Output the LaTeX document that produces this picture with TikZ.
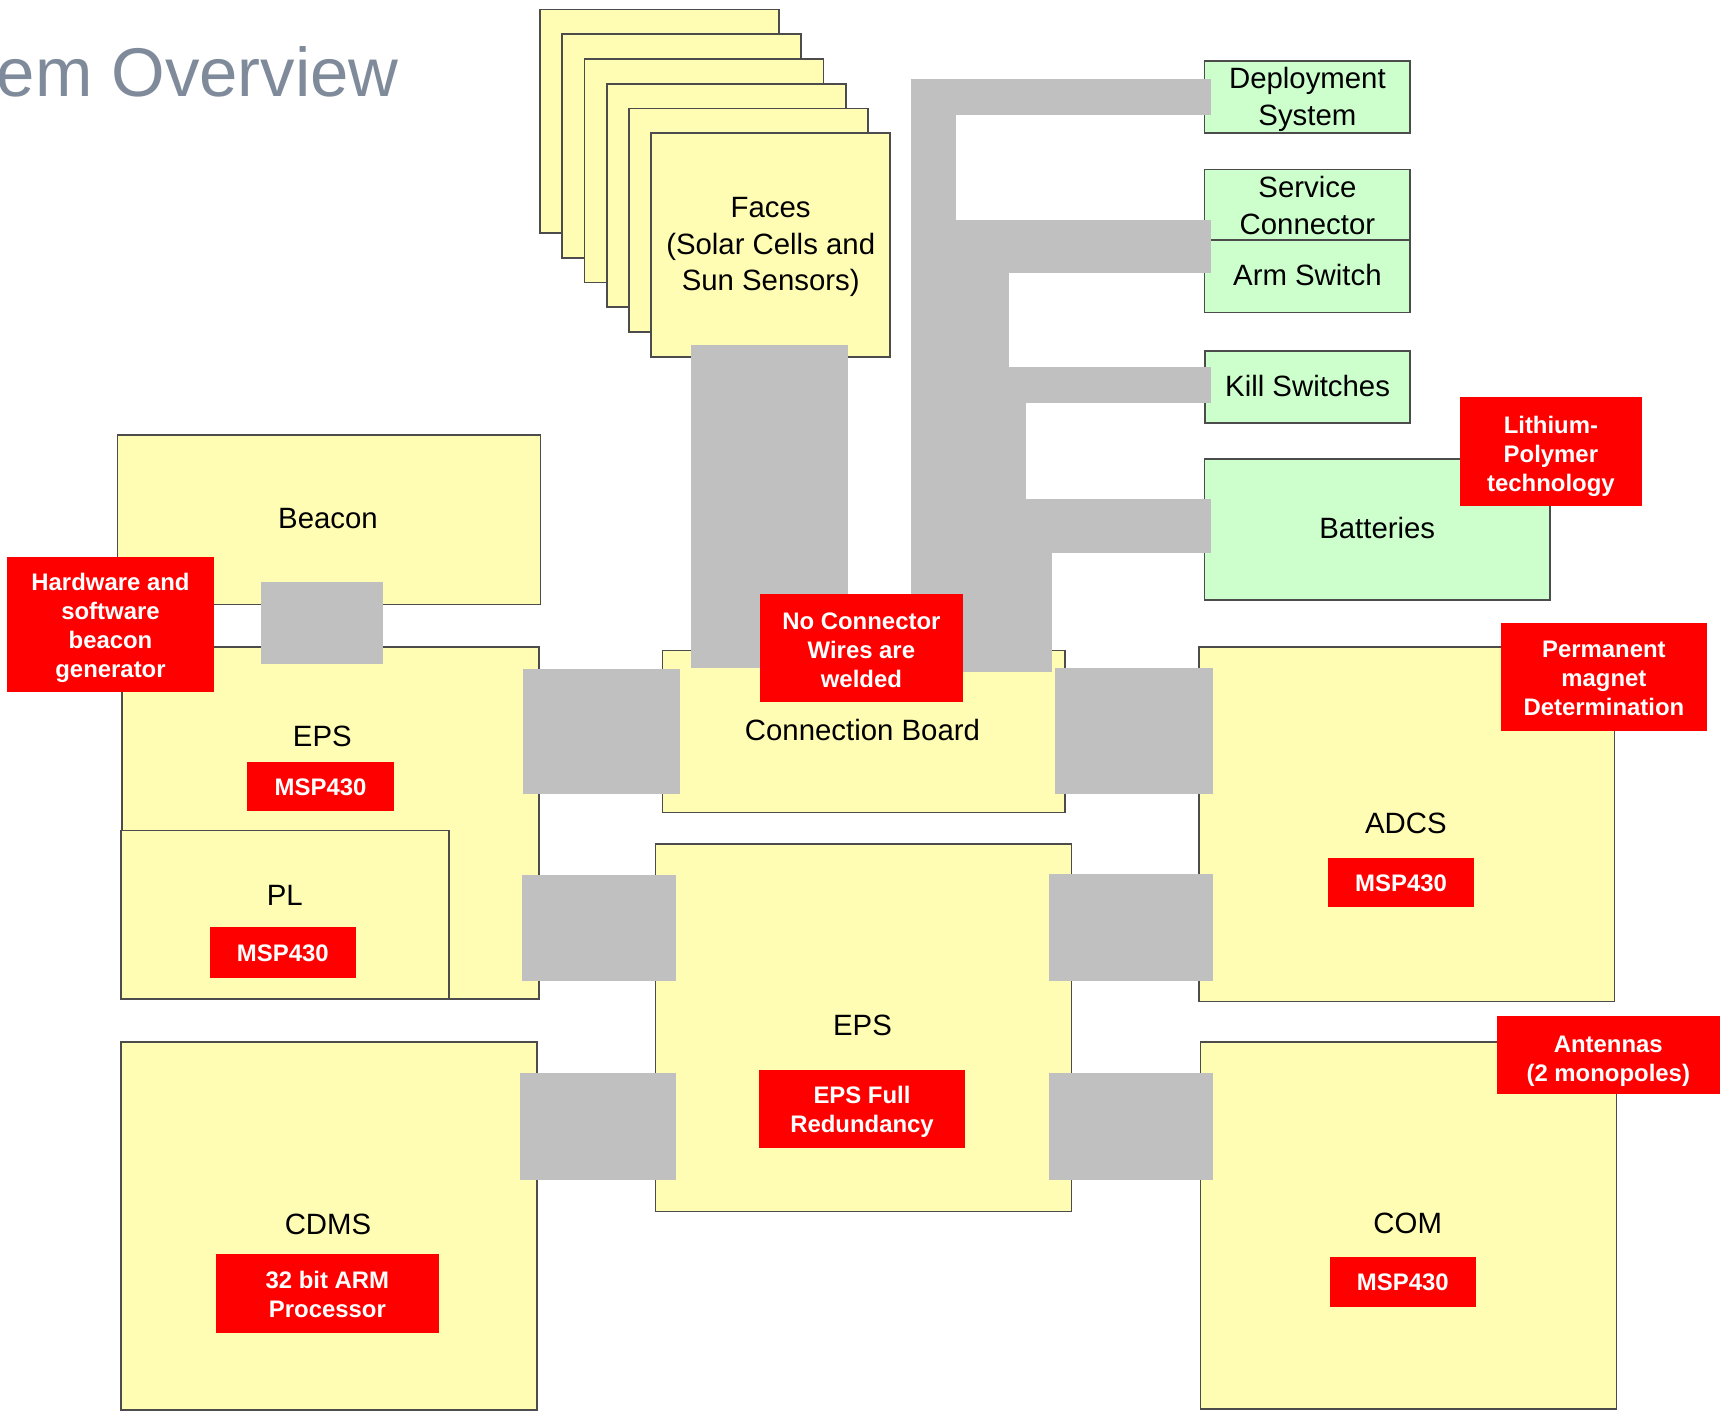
\documentclass[tikz,border=0pt]{standalone}
\usepackage{fontspec}
\setmainfont{Liberation Sans}
\usepackage{xcolor}
\usepackage{tikz}

\definecolor{boardyellow}{HTML}{FFFDB3}
\definecolor{switchgreen}{HTML}{CCFFCC}
\definecolor{busgray}{HTML}{C0C0C0}
\definecolor{notered}{HTML}{FF0000}
\definecolor{titlegray}{HTML}{7F8B9B}

\tikzset{
  board/.style={fill=boardyellow, draw=black!70, line width=0.5pt},
  switchbox/.style={fill=switchgreen, draw=black!70, line width=0.5pt},
  bus/.style={fill=busgray},
  note/.style={fill=notered},
  lbl/.style={font=\fontsize{8.35}{10.4}\selectfont, align=center, inner sep=0pt},
  notelbl/.style={font=\fontsize{6.8}{8.25}\selectfont\bfseries, text=white, align=center, inner sep=0pt}
}

\begin{document}
\begin{tikzpicture}[x=0.01cm, y=-0.01cm]

\fill[white] (0,0) rectangle (1723,1413);
\useasboundingbox (0,0) rectangle (1723,1413);

\node[anchor=base west, inner sep=0pt, text=titlegray, font=\fontsize{19.6}{23}\selectfont] (title) at (-4,97) {em Overview};

% stack of faces
\foreach \i in {0,...,5} {
	\draw[board] (540 + 22.25*\i, 9.5 + 24.75*\i) rectangle ++(239,223.5);
}
\node[lbl] (faces) at (770.7,247.2) {Faces\\(Solar Cells and\\Sun Sensors)};

% switches and batteries
\draw[switchbox] (1204.5, 60.7)--(1410.2, 60.7)--(1410.2,133.2)--(1204.5,133.2)--cycle;
\draw[switchbox] (1204.5,169.6) rectangle (1410.2,240);
\draw[switchbox] (1204.5,240)   rectangle (1410.2,312.5);
\draw[switchbox] (1205,350.7)   rectangle (1410.2,423.2);
\draw[switchbox] (1204.5,458.9) rectangle (1549.9,600);

\node[lbl] (deploy)  at (1307.4, 99.2) {Deployment\\System};
\node[lbl] (service) at (1307.4,205.5) {Service\\Connector};
\node[lbl] (arm)     at (1307.4,275.5) {Arm Switch};
\node[lbl] (kill)    at (1307.6,386)   {Kill Switches};
\node[lbl] (batt)    at (1377.2,528.5) {Batteries};

% boards
\draw[board] (117.4,435.3) rectangle (540.6,604.5);
\draw[board] (121.9,647)   rectangle (538.8,999);
\draw[board] (121,830.6)   rectangle (449.1,999);
\draw[board] (121,1042)    rectangle (537,1410);
\draw[board] (662.5,650.5) rectangle (1064.7,812.4);
\draw[board] (655.4,843.9) rectangle (1071.4,1211.5);
\draw[board] (1198.7,647.2) rectangle (1614.5,1001.5);
\draw[board] (1200.5,1041.8) rectangle (1616.6,1409);

\node[lbl] (beacon) at (328,518.7)    {Beacon};
\node[lbl] (eps1)   at (322.3,736.5)  {EPS};
\node[lbl] (pl)     at (284.8,895.7)  {PL};
\node[lbl] (cdms)   at (328,1224)     {CDMS};
\node[lbl] (cboard) at (862.5,730.2)  {Connection Board};
\node[lbl] (eps2)   at (862.5,1025.2) {EPS};
\node[lbl] (adcs)   at (1405.8,823)   {ADCS};
\node[lbl] (com)    at (1407.7,1223.8) {COM};

% harness to the switches
\fill[bus] (910.5, 78.6) rectangle (1211.3,115);
\fill[bus] (910.5, 78.6) rectangle (956.2,219.6);
\fill[bus] (910.5,219.6) rectangle (1211.3,273.2);
\fill[bus] (910.5,273.2) rectangle (1008.7,366.8);
\fill[bus] (910.5,366.8) rectangle (1211.3,402.9);
\fill[bus] (910.5,402.9) rectangle (1026,499.3);
\fill[bus] (910.5,499.3) rectangle (1211.3,552.9);
\fill[bus] (910.5,552.9) rectangle (1051.8,672);

% connectors between boards
\fill[bus] (691.4,345)   rectangle (848.4,668);
\fill[bus] (261.2,582.3) rectangle (383,664.2);

\fill[bus] (523.2,668.6)  rectangle (679.9,794);
\fill[bus] (521.9,875)    rectangle (676.3,981);
\fill[bus] (519.5,1073.5) rectangle (676.3,1180.2);

\fill[bus] (1055.4,668)   rectangle (1212.5,794);
\fill[bus] (1049,874.5)   rectangle (1212.5,981);
\fill[bus] (1049,1073.5)  rectangle (1212.5,1180);

% red notes
\fill[note] (1460,397.5)  rectangle (1641.7,506);
\fill[note] (7.1,556.6)   rectangle (213.8,692.5);
\fill[note] (759.8,593.7) rectangle (963,701.6);
\fill[note] (1501.2,622.8) rectangle (1706.6,730.6);
\fill[note] (246.9,762.1) rectangle (394.2,811.5);
\fill[note] (1328,858.2)  rectangle (1474.2,907.5);
\fill[note] (209.8,927)   rectangle (355.8,977.6);
\fill[note] (1497,1016)   rectangle (1719.5,1094.5);
\fill[note] (758.9,1069.6) rectangle (965.2,1148.5);
\fill[note] (216,1254)    rectangle (438.8,1332.7);
\fill[note] (1330,1256.8) rectangle (1475.5,1306.6);

\node[notelbl] (lipo)    at (1550.9,456.2)  {Lithium-\\Polymer\\technology};
\node[notelbl] (bgen)    at (110.5,628.3)   {Hardware and\\software\\beacon\\generator};
\node[notelbl] (welded)  at (861.4,649.8)   {No Connector\\Wires are\\welded};
\node[notelbl] (magnet)  at (1603.9,678.4)  {Permanent\\magnet\\Determination};
\node[notelbl] (mcueps)  at (320.6,787.5)   {MSP430};
\node[notelbl] (mcuadcs) at (1401.1,883.5)  {MSP430};
\node[notelbl] (mcupl)   at (282.8,953)     {MSP430};
\node[notelbl] (antenna) at (1608.3,1060.8) {Antennas\\(2 monopoles)};
\node[notelbl] (redund)  at (862,1112.3)    {EPS Full\\Redundancy};
\node[notelbl] (arm32)   at (327.4,1294.5)  {32 bit ARM\\Processor};
\node[notelbl] (mcucom)  at (1402.8,1282.4) {MSP430};

\end{tikzpicture}
\end{document}
